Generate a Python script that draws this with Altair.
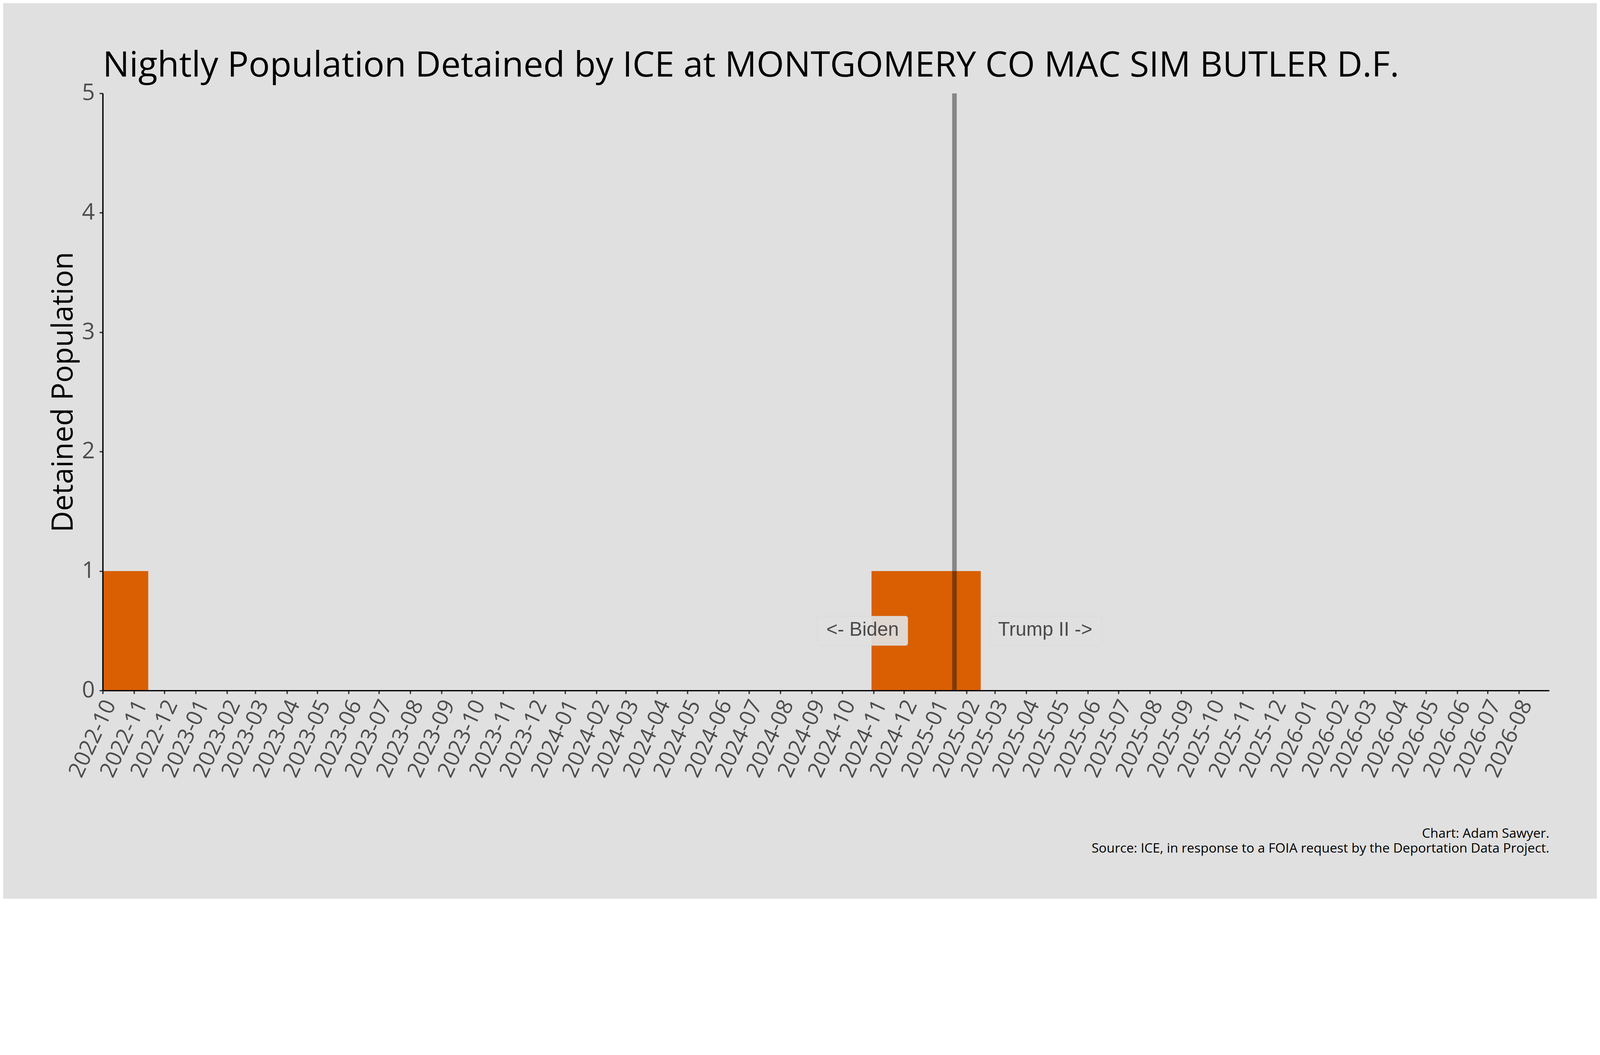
import altair as alt
import pandas as pd

# ---- data ----
segment_start = ["2022-10-01", "2024-10-30"]
segment_end = ["2022-11-15", "2025-02-15"]
population = [1, 1]

inauguration_date = ["2025-01-20"]
annotation_labels = ["<- Biden", "Trump II ->"]
annotation_value = [0.5, 0.5]

x_domain = [(2022, 10, 1), (2026, 8, 31)]
tick_labels = [
    "2022-10", "2022-11", "2022-12",
    "2023-01", "2023-02", "2023-03", "2023-04", "2023-05", "2023-06",
    "2023-07", "2023-08", "2023-09", "2023-10", "2023-11", "2023-12",
    "2024-01", "2024-02", "2024-03", "2024-04", "2024-05", "2024-06",
    "2024-07", "2024-08", "2024-09", "2024-10", "2024-11", "2024-12",
    "2025-01", "2025-02", "2025-03", "2025-04", "2025-05", "2025-06",
    "2025-07", "2025-08", "2025-09", "2025-10", "2025-11", "2025-12",
    "2026-01", "2026-02", "2026-03", "2026-04", "2026-05", "2026-06",
    "2026-07", "2026-08",
]
ytick_values = [0, 1, 2, 3, 4, 5]

title_text = ["Nightly Population Detained by ICE at MONTGOMERY CO MAC SIM BUTLER D.F."]
caption_lines = [
    "Chart: Adam Sawyer.",
    "Source: ICE, in response to a FOIA request by the Deportation Data Project.",
]

# ---- build tables ----
bars_df = pd.DataFrame({"start": segment_start, "end": segment_end, "pop": population})
rule_df = pd.DataFrame({"start": inauguration_date})
ann_df = pd.DataFrame({
    "start": inauguration_date * len(annotation_labels),
    "label": annotation_labels,
    "pop": annotation_value,
})
title_df = pd.DataFrame({"title": title_text})

def dt(y, m, d):
    return alt.DateTime(year=y, month=m, date=d, utc=True)

tick_values = [dt(int(s[:4]), int(s[5:]), 1) for s in tick_labels]

W, H = 4342, 1792
FONT = "Open Sans"
BG = "#e0e0e0"

x_scale = alt.Scale(type="utc", domain=[dt(*x_domain[0]), dt(*x_domain[1])], nice=False)
y_scale = alt.Scale(domain=[0, 5], nice=False)

x_axis = alt.Axis(
    values=tick_values, labelExpr="utcFormat(datum.value, '%Y-%m')",
    labelAngle=295, labelAlign="right", labelBaseline="middle",
    labelOffset=22, labelPadding=22, labelLimit=2000,
    labelFont=FONT, labelFontSize=66, labelColor="#4d4d4d",
    labelOverlap=False, labelFlush=False, labelBound=False,
    tickSize=10, tickWidth=4, tickColor="#3a3a3a",
    domainColor="black", domainWidth=4, grid=False, zindex=1,
    title=caption_lines, titleX=W, titleY=441, titleAlign="right",
    titleAnchor="end", titleBaseline="alphabetic", titleFont=FONT,
    titleFontSize=39.5, titleFontWeight="normal", titleColor="black",
    titleLineHeight=45,
)
y_axis = alt.Axis(
    values=ytick_values, format="d",
    labelFont=FONT, labelFontSize=68, labelColor="#4d4d4d", labelPadding=14,
    tickSize=10, tickWidth=4, tickColor="#3a3a3a",
    domainColor="black", domainWidth=4, grid=False, zindex=1,
    title="Detained Population", titleFont=FONT, titleFontSize=88,
    titleFontWeight="normal", titleColor="black", titleAngle=270,
    titleX=-91, titleY=H / 2, titleAlign="center", titleBaseline="alphabetic",
)

bars = alt.Chart(bars_df).mark_rect(color="#d95f02").encode(
    x=alt.X("start:T", scale=x_scale, axis=x_axis),
    x2=alt.X2("end"),
    y=alt.Y("pop:Q", scale=y_scale, axis=y_axis),
    y2=alt.Y2(datum=0),
)

rule = alt.Chart(rule_df).mark_rule(color="black", opacity=0.4, strokeWidth=13.7).encode(
    x=alt.X("start:T", scale=x_scale),
)

box_style = dict(fill=BG, fillOpacity=0.93, stroke="#d6d6d6", strokeWidth=2,
                 strokeOpacity=0.5, cornerRadius=7, yOffset=-44, y2Offset=44)

def box(label, x0, x1):
    return alt.Chart(ann_df).transform_filter(alt.datum.label == label).mark_rect(
        xOffset=x0, x2Offset=x1, **box_style
    ).encode(
        x=alt.X("start:T", scale=x_scale),
        x2=alt.X2("start"),
        y=alt.Y("pop:Q", scale=y_scale),
        y2=alt.Y2("pop"),
    )

def label_text(label, align, dx):
    return alt.Chart(ann_df).transform_filter(alt.datum.label == label).mark_text(
        align=align, baseline="alphabetic", dx=dx, dy=15,
        font="Liberation Sans", fontSize=58, color="#4a4a4a",
    ).encode(
        x=alt.X("start:T", scale=x_scale),
        y=alt.Y("pop:Q", scale=y_scale),
        text="label:N",
    )

# chart title drawn as text anchored to the top-left corner of the plot
title_mark = alt.Chart(title_df).mark_text(
    align="left", baseline="alphabetic", font=FONT, fontSize=106, color="black",
).encode(x=alt.value(0), y=alt.value(-50), text="title:N")

chart = alt.layer(
    bars, rule,
    box(annotation_labels[0], -412, -140),
    box(annotation_labels[1], 108, 443),
    label_text(annotation_labels[0], "right", -167),
    label_text(annotation_labels[1], "left", 131),
    title_mark,
).properties(
    width=W, height=H,
    padding={"left": 299, "top": 73, "right": 143, "bottom": 427},
    autosize=alt.AutoSizeParams(type="none"),
).configure(background=BG).configure_view(strokeWidth=0)

chart.save("out.html", embed_options={"renderer": "svg", "actions": False})
